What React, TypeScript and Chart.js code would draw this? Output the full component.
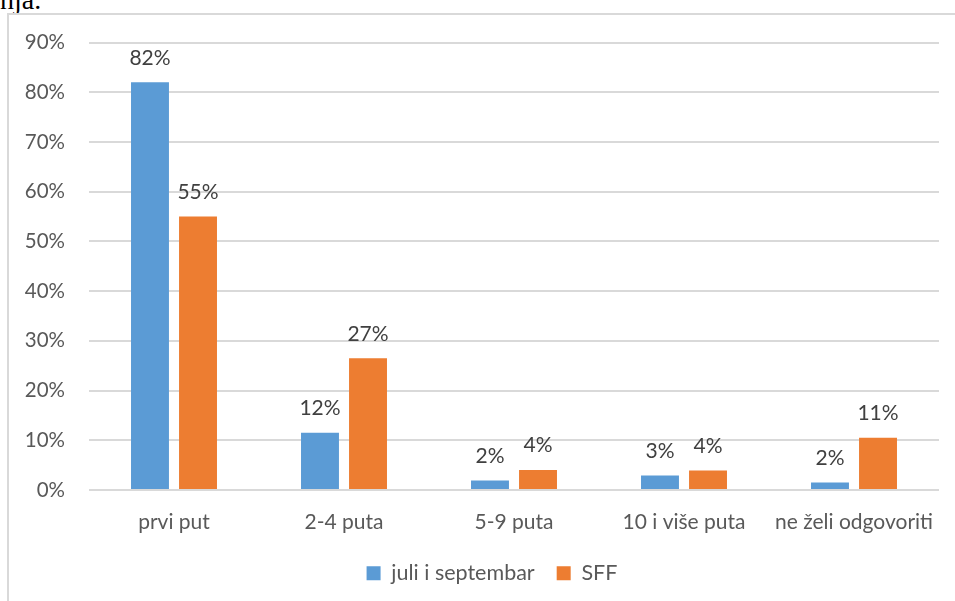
import React, { useEffect, useRef } from "react";
import { Chart, registerables } from "chart.js";

Chart.register(...registerables);

const categories = ["prvi put", "2-4 puta", "5-9 puta", "10 i više puta", "ne želi odgovoriti"];
const seriesNames = ["juli i septembar", "SFF"];
const juliSeptembar = [82, 11.5, 1.9, 2.9, 1.5];
const sff = [55, 26.5, 4.0, 3.9, 10.5];
const yTicks = [0, 10, 20, 30, 40, 50, 60, 70, 80, 90];

const BLUE = "#5B9BD5";
const ORANGE = "#ED7D31";
const FONT = "Lato, 'Open Sans', sans-serif";
const TEXT_SIZE = 21;

// Writes each bar's rounded percentage above it.
const valueLabels = {
  id: "valueLabels",
  afterDatasetsDraw(chart: any) {
    const ctx = chart.ctx;
    ctx.save();
    ctx.font = `${TEXT_SIZE}px ${FONT}`;
    ctx.fillStyle = "#404040";
    ctx.textAlign = "center";
    ctx.textBaseline = "middle";
    chart.data.datasets.forEach((ds: any, di: number) => {
      const meta = chart.getDatasetMeta(di);
      meta.data.forEach((bar: any, i: number) => {
        const v = ds.data[i] as number;
        ctx.fillText(`${Math.round(v)}%`, bar.x, bar.y - 24.5);
      });
    });
    ctx.restore();
  },
};

export default function App() {
  const canvasRef = useRef<HTMLCanvasElement | null>(null);

  useEffect(() => {
    if (!canvasRef.current) return;
    const chart = new Chart(canvasRef.current, {
      type: "bar",
      data: {
        labels: categories,
        datasets: [
          { label: seriesNames[0], data: juliSeptembar, backgroundColor: BLUE, borderWidth: 0 },
          { label: seriesNames[1], data: sff, backgroundColor: ORANGE, borderWidth: 0 },
        ],
      },
      options: {
        animation: false,
        responsive: false,
        devicePixelRatio: 1,
        layout: { padding: { top: 27.5, right: 0, left: 0, bottom: 7 } },
        datasets: {
          bar: { categoryPercentage: 0.565, barPercentage: 0.79 },
        },
        scales: {
          x: {
            grid: { display: false },
            border: { display: false },
            ticks: { color: "#595959", font: { family: FONT, size: TEXT_SIZE }, padding: 11.5, maxRotation: 0 },
            afterFit(scale: any) {
              scale.height = 50.5;
            },
          },
          y: {
            min: 0,
            max: 90,
            afterBuildTicks(scale: any) {
              scale.ticks = yTicks.map((v) => ({ value: v }));
            },
            grid: { color: "#d9d9d9", lineWidth: 2, drawTicks: false },
            border: { display: false },
            ticks: {
              color: "#595959",
              font: { family: FONT, size: 20.5 },
              padding: 24,
              callback: (v: any) => `${v}%`,
            },
            afterFit(scale: any) {
              scale.width = 80;
              scale.paddingTop = 0;
              scale.paddingBottom = 0;
            },
          },
          // blank right-hand margin of the plot, kept as an empty axis so the
          // full-width legend stays centred on the whole frame
          yRight: {
            position: "right",
            grid: { display: false, drawTicks: false },
            border: { display: false },
            ticks: { display: false },
            afterFit(scale: any) {
              scale.width = 36;
              scale.paddingTop = 0;
              scale.paddingBottom = 0;
            },
          },
        },
        plugins: {
          legend: {
            position: "bottom",
            labels: {
              color: "#595959",
              font: { family: FONT, size: 21.5 },
              boxWidth: 14,
              boxHeight: 14,
              padding: 22,
            },
          },
          tooltip: { enabled: false },
        },
      },
      plugins: [valueLabels],
    });
    return () => chart.destroy();
  }, []);

  return (
    <div style={{ position: "absolute", left: 0, top: 0, width: 955, height: 601, overflow: "hidden", background: "#fff" }}>
      <div
        style={{
          position: "absolute",
          left: 0,
          top: -14,
          fontFamily: "'Liberation Serif', 'Times New Roman', serif",
          fontSize: 28,
          lineHeight: "28px",
          color: "#000",
          whiteSpace: "nowrap",
        }}
      >
        nja.
      </div>
      <div
        style={{
          position: "absolute",
          left: 7,
          top: 13,
          width: 980,
          height: 620,
          borderLeft: "2px solid #d9d9d9",
          borderTop: "2px solid #d9d9d9",
        }}
      />
      <canvas
        ref={canvasRef}
        width={966}
        height={586}
        style={{ position: "absolute", left: 9, top: 15, width: 966, height: 586 }}
      />
    </div>
  );
}
